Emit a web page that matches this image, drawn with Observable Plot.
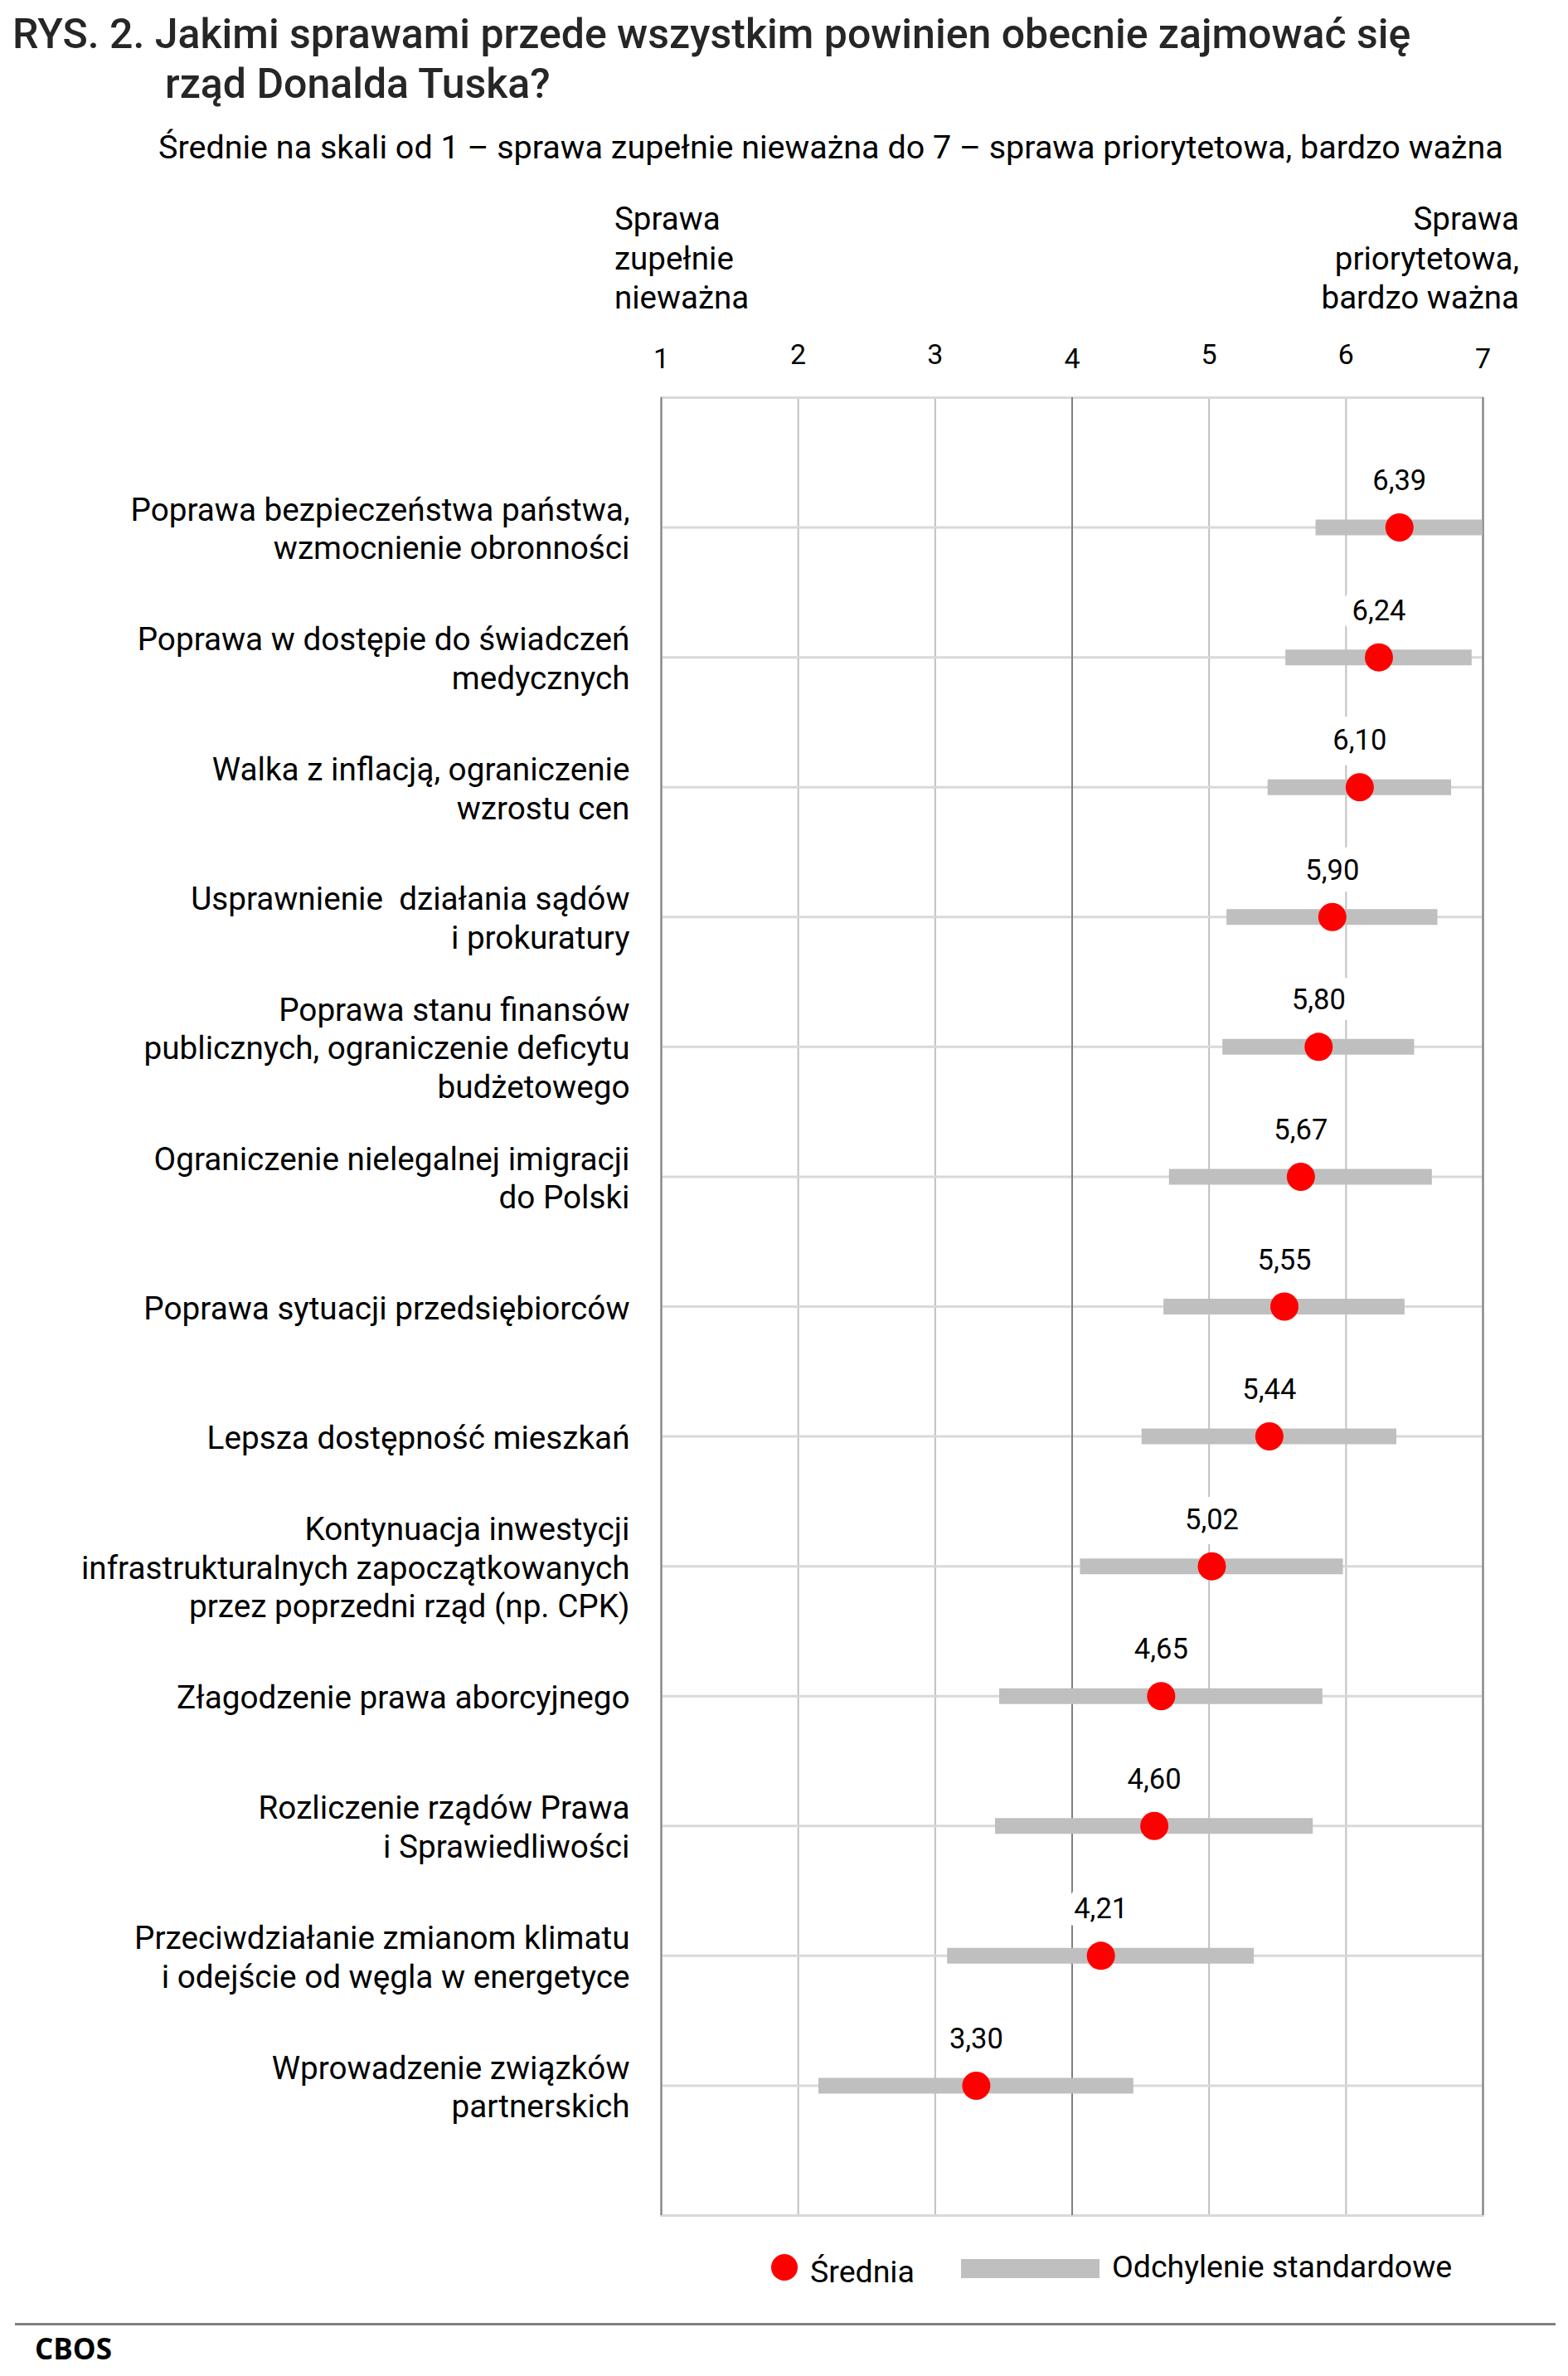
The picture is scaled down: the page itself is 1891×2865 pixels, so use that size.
<!DOCTYPE html>
<html>
<head>
<meta charset="utf-8">
<script src="https://cdn.jsdelivr.net/npm/d3@7"></script>
<script src="https://cdn.jsdelivr.net/npm/@observablehq/plot@0.6"></script>
<style>
  html, body { margin: 0; padding: 0; background: #fff; }
  #page { position: relative; width: 1891px; height: 2865px; overflow: hidden; font-family: Roboto, sans-serif; color: #000; background: #fff; }
  .abs { position: absolute; white-space: nowrap; }
  #title { left: 15px; top: 11px; font-size: 50px; line-height: 60px; font-weight: 500; color: #262626; padding-left: 184px; text-indent: -184px; }
  #subtitle { left: 191px; top: 155px; font-size: 39.5px; line-height: 46px; }
  #leftNote { left: 741px; top: 240px; font-size: 38.5px; line-height: 47.5px; }
  #rightNote { right: 59px; top: 240px; font-size: 38.5px; line-height: 47.5px; text-align: right; }
  #chart { left: 0; top: 400px; }
  .lg-dot { left: 930px; top: 2718px; width: 32px; height: 32px; border-radius: 50%; background: #ff0000; }
  .lg-bar { left: 1159px; top: 2724px; width: 167px; height: 23px; background: #bfbfbf; }
  .lg-txt { font-size: 37.5px; line-height: 45px; }
  #sep { left: 18px; top: 2801px; width: 1858px; height: 3px; background: #808080; }
  #source { left: 42px; top: 2814px; font-family: "Open Sans", sans-serif; font-weight: 700; font-size: 35px; line-height: 35px; }
</style>
</head>
<body>
<div id="page">
  <div id="title" class="abs">RYS. 2. Jakimi sprawami przede wszystkim powinien obecnie zajmować się<br>rząd Donalda Tuska?</div>
  <div id="subtitle" class="abs">Średnie na skali od 1 – sprawa zupełnie nieważna do 7 – sprawa priorytetowa, bardzo ważna</div>
  <div id="leftNote" class="abs">Sprawa<br>zupełnie<br>nieważna</div>
  <div id="rightNote" class="abs">Sprawa<br>priorytetowa,<br>bardzo ważna</div>
  <div id="chart" class="abs"></div>
  <div class="abs lg-dot"></div>
  <div class="abs lg-txt" id="lgMean" style="left:977px; top:2717px;"></div>
  <div class="abs lg-bar"></div>
  <div class="abs lg-txt" id="lgSd" style="left:1341px; top:2711px;"></div>
  <div id="sep" class="abs"></div>
  <div id="source" class="abs">CBOS</div>
</div>
<script>
// ---- data ----
const categories = [
  "Poprawa bezpieczeństwa państwa,\nwzmocnienie obronności",
  "Poprawa w dostępie do świadczeń\nmedycznych",
  "Walka z inflacją, ograniczenie\nwzrostu cen",
  "Usprawnienie  działania sądów\ni prokuratury",
  "Poprawa stanu finansów\npublicznych, ograniczenie deficytu\nbudżetowego",
  "Ograniczenie nielegalnej imigracji\ndo Polski",
  "Poprawa sytuacji przedsiębiorców",
  "Lepsza dostępność mieszkań",
  "Kontynuacja inwestycji\ninfrastrukturalnych zapoczątkowanych\nprzez poprzedni rząd (np. CPK)",
  "Złagodzenie prawa aborcyjnego",
  "Rozliczenie rządów Prawa\ni Sprawiedliwości",
  "Przeciwdziałanie zmianom klimatu\ni odejście od węgla w energetyce",
  "Wprowadzenie związków\npartnerskich"
];
const means = [6.39, 6.24, 6.10, 5.90, 5.80, 5.67, 5.55, 5.44, 5.02, 4.65, 4.60, 4.21, 3.30];
const sds   = [0.61, 0.68, 0.67, 0.77, 0.70, 0.96, 0.88, 0.93, 0.96, 1.18, 1.16, 1.12, 1.15];
const majorTicks = [1, 4, 7];
const minorTicks = [2, 3, 5, 6];
const legendLabels = ["Średnia", "Odchylenie standardowe"];

document.getElementById("lgMean").textContent = legendLabels[0];
document.getElementById("lgSd").textContent = legendLabels[1];

const rows = categories.map((c, i) => ({cat: c, mean: means[i], sd: sds[i]}));
const fmt = v => v.toFixed(2).replace(".", ",");

const chart = Plot.plot({
  width: 1891,
  height: 2290,
  marginLeft: 797,
  marginRight: 103,
  marginTop: 79,
  marginBottom: 19,
  x: {domain: [1, 7], axis: null, label: null},
  y: {type: "point", domain: categories, padding: 1, round: false, axis: null},
  style: {fontFamily: "Roboto, sans-serif", background: "white", color: "black", overflow: "visible"},
  marks: [
    Plot.ruleX(minorTicks, {stroke: "#c0c0c0", strokeWidth: 2}),
    Plot.ruleY(categories, {stroke: "#d9d9d9", strokeWidth: 3}),
    Plot.frame({stroke: "#d9d9d9", strokeWidth: 3}),
    Plot.ruleX(majorTicks, {stroke: "#808080", strokeWidth: 2}),
    Plot.ruleY(rows, {y: "cat", x1: d => d.mean - d.sd, x2: d => d.mean + d.sd, stroke: "#bfbfbf", strokeWidth: 19}),
    Plot.text(rows, {x: "mean", y: "cat", text: d => fmt(d.mean), dy: -45, lineAnchor: "bottom", fontSize: 34.5, fill: "black", stroke: "white", strokeWidth: 30, strokeLinejoin: "round"}),
    Plot.dot(rows, {x: "mean", y: "cat", r: 17, fill: "#ff0000"}),
    Plot.text(categories, {y: d => d, text: d => d, frameAnchor: "left", dx: -38, textAnchor: "end", fontSize: 38.7, lineHeight: 1.21, fill: "black"}),
    Plot.axisX(majorTicks, {anchor: "top", tickSize: 0, tickPadding: 36, fontSize: 34, tickFormat: d => String(d), label: null}),
    Plot.axisX(minorTicks, {anchor: "top", tickSize: 0, tickPadding: 41, fontSize: 34, tickFormat: d => String(d), label: null})
  ]
});
document.getElementById("chart").appendChild(chart);
</script>
</body>
</html>
